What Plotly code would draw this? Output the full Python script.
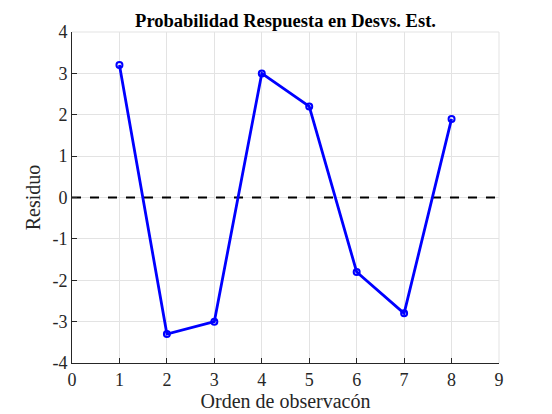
import plotly.graph_objects as go

# Datos
orden = [1, 2, 3, 4, 5, 6, 7, 8]
residuo = [3.2, -3.3, -3.0, 3.0, 2.2, -1.8, -2.8, 1.9]
linea_x = [0, 9]
linea_y = [0, 0]
x_ticks = list(range(0, 10))
y_ticks = list(range(-4, 5))

FONT = "Liberation Serif, Times New Roman, serif"

fig = go.Figure()

# Linea de referencia en cero
fig.add_trace(go.Scatter(
    x=linea_x, y=linea_y, mode="lines",
    line=dict(color="black", width=2, dash="dash"),
    showlegend=False, hoverinfo="skip",
))

# Residuos
fig.add_trace(go.Scatter(
    x=orden, y=residuo, mode="lines+markers",
    line=dict(color="#0000ff", width=2.8),
    marker=dict(symbol="circle-open", size=6, color="#0000ff", line=dict(width=2)),
    showlegend=False,
))

axis_common = dict(
    showgrid=True, gridcolor="#e3e3e3", gridwidth=1,
    zeroline=False, showline=True, linecolor="#262626", linewidth=1,
    ticks="inside", ticklen=5, tickcolor="#262626",
    tickfont=dict(family=FONT, size=18, color="#262626"),
    mirror=False, automargin=False,
)

fig.update_xaxes(
    range=[0, 9], tickmode="array", tickvals=x_ticks,
    ticktext=[str(v) for v in x_ticks],
    title=dict(text="Orden de observacón", font=dict(family=FONT, size=20, color="#262626"), standoff=2),
    **axis_common,
)
fig.update_yaxes(
    range=[-4, 4], tickmode="array", tickvals=y_ticks,
    ticktext=[str(v) for v in y_ticks],
    title=dict(text="Residuo", font=dict(family=FONT, size=20, color="#262626"), standoff=6),
    **axis_common,
)

# Bordes superior y derecho como lineas de rejilla
fig.add_shape(type="line", xref="paper", yref="paper", x0=0, x1=1, y0=1, y1=1,
              line=dict(color="#e3e3e3", width=1))
fig.add_shape(type="line", xref="paper", yref="paper", x0=1, x1=1, y0=0, y1=1,
              line=dict(color="#e3e3e3", width=1))

# La pagina agrega 8px de margen, se compensa aqui
fig.update_layout(
    width=544, height=406,
    margin=dict(l=64, r=53, t=24, b=51),
    paper_bgcolor="white", plot_bgcolor="white",
    title=dict(
        text="<b>Probabilidad Respuesta en Desvs. Est.</b>",
        font=dict(family=FONT, size=18.5, color="black"),
        x=0.5, xref="paper", xanchor="center", y=0.97, yanchor="middle",
    ),
)

fig.write_html("out.html")
